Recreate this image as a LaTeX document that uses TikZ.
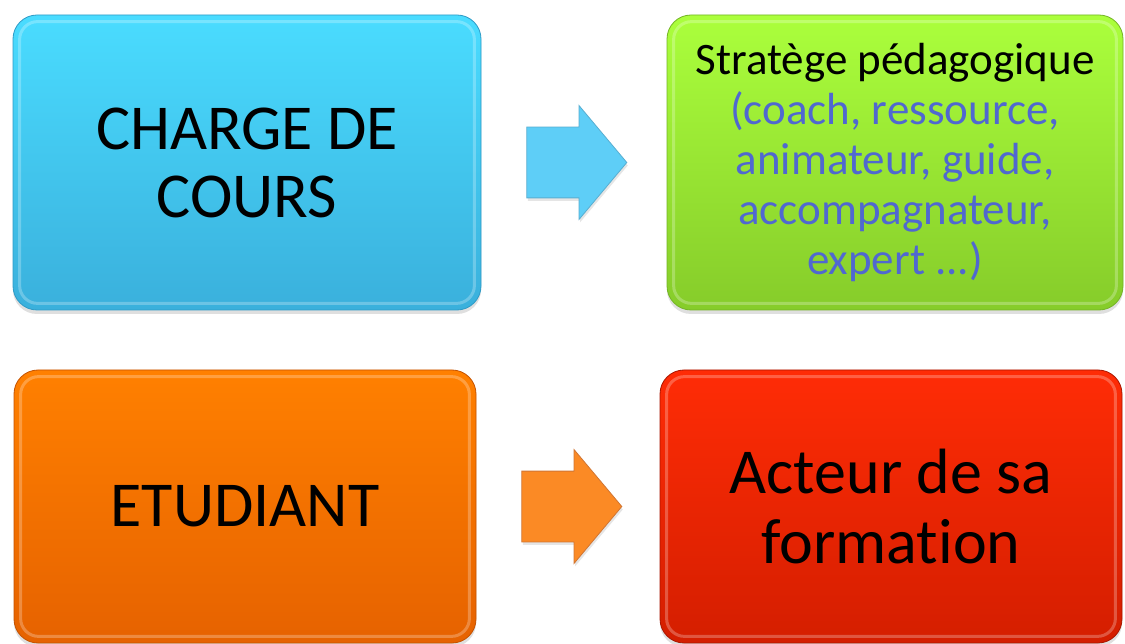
\documentclass[tikz,border=0pt]{standalone}
\usepackage{fontspec}
\setmainfont{Carlito}[Ligatures=NoCommon]
\usetikzlibrary{shapes.arrows,shadows,calc}

\definecolor{bleuhaut}{HTML}{4ADCFF}
\definecolor{bleubas}{HTML}{3AB0DC}
\definecolor{bleubord}{HTML}{2E9AC6}
\definecolor{verthaut}{HTML}{ABFF3C}
\definecolor{vertbas}{HTML}{86CC2A}
\definecolor{vertbord}{HTML}{74B426}
\definecolor{orangehaut}{HTML}{FF8000}
\definecolor{orangebas}{HTML}{E66200}
\definecolor{orangebord}{HTML}{C45200}
\definecolor{rougehaut}{HTML}{FF2C06}
\definecolor{rougebas}{HTML}{D41E00}
\definecolor{rougebord}{HTML}{A81600}
\definecolor{flechebleue}{HTML}{5ECEF7}
\definecolor{flecheorange}{HTML}{FB8A25}
\definecolor{textebleu}{HTML}{5068D0}

\begin{document}
\begin{tikzpicture}[x=1pt, y=-1pt,
    boite/.style={rectangle, rounded corners=24pt, draw=#1, line width=0.8pt, align=center, inner sep=0pt,
        drop shadow={opacity=0.25, shadow xshift=0pt, shadow yshift=-4pt}},
    reflet/.style={white, opacity=0.25, line width=3pt, rounded corners=18pt},
    fleche/.style={single arrow, draw=#1, line width=0.8pt, anchor=tail, minimum height=100pt,
        inner xsep=0pt, inner ysep=35pt, single arrow head extend=21.5pt, single arrow tip angle=100,
        drop shadow={opacity=0.2, shadow xshift=1pt, shadow yshift=-3pt}}]
    \path[use as bounding box, fill=white] (0,0) rectangle (1125,644);

    \node[boite=bleubord, top color=bleuhaut, bottom color=bleubas, minimum width=468pt, minimum height=295pt,
        font=\fontsize{64}{68}\selectfont] (charge) at (247,162.5) {CHARGE DE\\COURS};
    \node[boite=vertbord, top color=verthaut, bottom color=vertbas, minimum width=456pt, minimum height=295pt,
        font=\fontsize{45}{50}\selectfont] (strategie) at (895,162.5) {Stratège pédagogique\\
        \textcolor{textebleu}{(coach, ressource,}\\
        \textcolor{textebleu}{animateur, guide,}\\
        \textcolor{textebleu}{accompagnateur,}\\
        \textcolor{textebleu}{expert ...)}};
    \node[boite=orangebord, top color=orangehaut, bottom color=orangebas, minimum width=462pt, minimum height=273pt,
        font=\fontsize{64}{68}\selectfont] (etudiant) at (245,506.5) {ETUDIANT};
    \node[boite=rougebord, top color=rougehaut, bottom color=rougebas, minimum width=462pt, minimum height=273pt,
        font=\fontsize{64}{70}\selectfont] (acteur) at (891,506.5) {Acteur de sa\\formation};

    % reflet interieur
    \foreach \b in {charge,strategie,etudiant,acteur}
        \draw[reflet] ($(\b.north west)+(7,7)$) rectangle ($(\b.south east)+(-7,-7)$);

    % fleches entre les boites
    \node[fleche=bleubord!80, fill=flechebleue] (f1) at ($(charge.east)+(45,0)$) {};
    \node[fleche=orangebord!80, fill=flecheorange] (f2) at ($(etudiant.east)+(45,0)$) {};
\end{tikzpicture}
\end{document}
